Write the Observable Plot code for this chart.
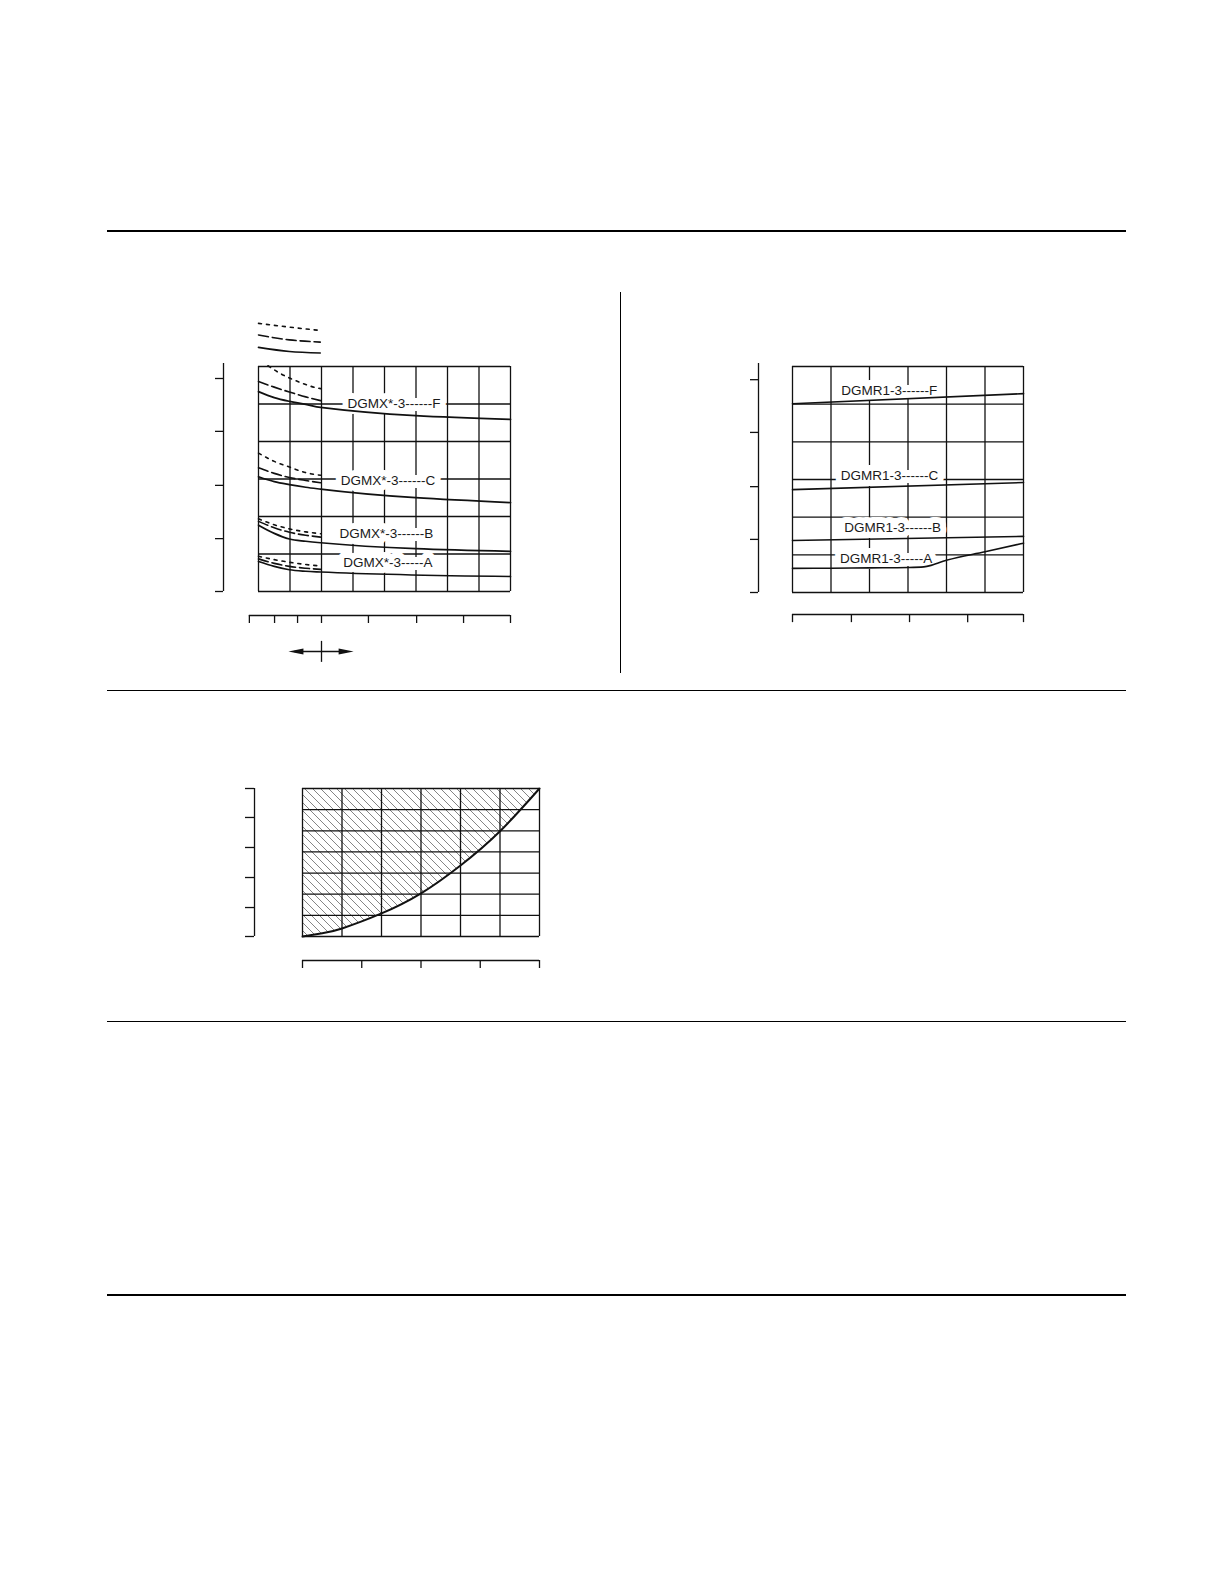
<!DOCTYPE html>
<html>
<head>
<meta charset="utf-8">
<script src="https://cdn.jsdelivr.net/npm/d3@7"></script>
<script src="https://cdn.jsdelivr.net/npm/@observablehq/plot@0.6"></script>
<style>
  html, body { margin: 0; padding: 0; background: #fff; }
  #page { position: relative; width: 1224px; height: 1584px; background: #fff; overflow: hidden;
          font-family: "Liberation Sans", Arial, Helvetica, sans-serif; }
  .rule { position: absolute; background: #000; }
  .chart { position: absolute; }
  .chart svg { overflow: visible; background: transparent; }
</style>
</head>
<body>
<div id="page">
  <div class="rule" style="left:107px;top:229.5px;width:1019px;height:2px"></div>
  <div class="rule" style="left:620px;top:292px;width:1.3px;height:381px"></div>
  <div class="rule" style="left:107px;top:689.5px;width:1019px;height:1.2px"></div>
  <div class="rule" style="left:107px;top:1020.5px;width:1019px;height:1.2px"></div>
  <div class="rule" style="left:107px;top:1294px;width:1019px;height:2px"></div>
  <div class="chart" id="c1" style="left:200px;top:300px"></div>
  <div class="chart" id="c2" style="left:730px;top:340px"></div>
  <div class="chart" id="c3" style="left:230px;top:770px"></div>
</div>
<script>
// ---------------- DATA ----------------
// Chart 1: DGMX*-3 curves (x in grid columns 0..8, y in grid rows 0..6)
const dgmxGridU = [0, 1, 2, 3, 4, 5, 6, 7, 8];
const dgmxGridV = [0, 1, 2, 3, 4, 5, 6];
const dgmxYTicks = [0, 1.41, 2.83, 4.27, 5.68];
const dgmxXTicks = [-0.29, 0.51, 1.24, 2.0, 3.49, 5.02, 6.51, 8.0];

const dgmxF_solid  = [[0,5.33],[0.5,5.17],[0.98,5.07],[1.5,4.99],[1.97,4.91],[8,4.59]];
const dgmxF_dashed = [[0,5.60],[0.5,5.45],[0.98,5.32],[1.5,5.19],[1.97,5.09]];
const dgmxF_dotted = [[0.3,6.02],[0.7,5.81],[1.02,5.68],[1.4,5.55],[1.8,5.44],[1.97,5.41]];
const dgmxC_solid  = [[0,3.06],[0.5,2.93],[0.98,2.85],[1.5,2.78],[1.97,2.73],[8,2.37]];
const dgmxC_dashed = [[0,3.30],[0.5,3.15],[0.98,3.04],[1.5,2.96],[1.97,2.90]];
const dgmxC_dotted = [[0,3.69],[0.5,3.47],[0.98,3.32],[1.5,3.17],[1.97,3.10]];
const dgmxB_solid  = [[0,1.77],[0.5,1.55],[0.98,1.40],[1.5,1.34],[1.97,1.30],[8,1.07]];
const dgmxB_dashed = [[0,1.87],[0.5,1.70],[0.98,1.58],[1.5,1.50],[1.97,1.45]];
const dgmxB_dotted = [[0,1.94],[0.5,1.78],[0.98,1.67],[1.5,1.59],[1.97,1.54]];
const dgmxA_solid  = [[0,0.80],[0.5,0.67],[0.98,0.58],[1.5,0.54],[1.97,0.52],[8,0.40]];
const dgmxA_dashed = [[0,0.87],[0.5,0.75],[0.98,0.67],[1.5,0.62],[1.97,0.59]];
const dgmxA_dotted = [[0,0.94],[0.5,0.85],[0.98,0.78],[1.5,0.72],[1.97,0.68]];

const legendDotted = [[0,7.15],[0.98,7.05],[1.96,6.96]];
const legendDashed = [[0,6.84],[0.98,6.71],[1.96,6.65]];
const legendSolid  = [[0,6.51],[0.98,6.40],[1.96,6.36]];

const dgmxLabelText = ["DGMX*-3------F", "DGMX*-3------C", "DGMX*-3------B", "DGMX*-3-----A"];
const dgmxLabelU = [4.30, 4.11, 4.06, 4.11];
const dgmxLabelV = [5.01, 2.96, 1.55, 0.77];

const dgmxArrow = {from: 0.95, center: 2.0, to: 3.02, v: -1.6, top: -1.33, bottom: -1.89};

// Chart 2: DGMR1-3 curves (x in grid columns 0..6, y in grid rows 0..6)
const dgmrGridU = [0, 1, 2, 3, 4, 5, 6];
const dgmrGridV = [0, 1, 2, 3, 4, 5, 6];
const dgmrYTicks = [0, 1.41, 2.81, 4.25, 5.65];
const dgmrXTicks = [0, 1.53, 3.04, 4.55, 6.0];
const dgmrF = [[0,5.01],[6,5.28]];
const dgmrC = [[0,2.73],[6,2.92]];
const dgmrB = [[0,1.38],[6,1.49]];
const dgmrA = [[0,0.64],[1,0.645],[2,0.655],[3,0.665],[3.41,0.68],[3.6,0.72],[3.8,0.79],[4.02,0.86],[5,1.08],[6,1.31]];
const dgmrLabelText = ["DGMR1-3------F", "DGMR1-3------C", "DGMR1-3------B", "DGMR1-3-----A"];
const dgmrLabelU = [2.51, 2.52, 2.60, 2.43];
const dgmrLabelV = [5.36, 3.11, 1.73, 0.90];

// Chart 3: limit curve with hatched region (x 0..6, y 0..7)
const limGridU = [0, 1, 2, 3, 4, 5, 6];
const limGridV = [0, 1, 2, 3, 4, 5, 6, 7];
const limYTicks = [0, 1.37, 2.79, 4.21, 5.63, 7];
const limXTicks = [0, 1.5, 3, 4.5, 6];
const limCurveU = [0, 0.5, 1, 2, 3, 4, 5, 6];
const limCurveV = [0, 0.15, 0.38, 1.09, 2.04, 3.36, 4.98, 7];

// ---------------- STYLE / LAYOUT ----------------
const ink = "#111";
const font = "Liberation Sans, Arial, Helvetica, sans-serif";
const gridW = 1.3;

const toRows = (pts, key) => pts.map(([u, v]) => ({u, v, key}));

const headLeft = {draw(ctx) { ctx.moveTo(0, 0); ctx.lineTo(15, -3); ctx.lineTo(15, 3); ctx.closePath(); }};
const headRight = {draw(ctx) { ctx.moveTo(0, 0); ctx.lineTo(-15, -3); ctx.lineTo(-15, 3); ctx.closePath(); }};

function labelMarks(texts, us, vs) {
  const rows = texts.map((t, i) => ({text: t, u: us[i], v: vs[i]}));
  return {
    halo: Plot.text(rows, {x: "u", y: "v", text: "text", fill: "white", stroke: "white", strokeWidth: 12,
      strokeLinejoin: "round", fontSize: 13.5, fontFamily: font}),
    text: Plot.text(rows, {x: "u", y: "v", text: "text", fill: "#1a1a1a", fontSize: 13.5, fontFamily: font})
  };
}

function axisMarks({yAxisU, yTop, tickU, yTicks, xAxisV, tickV, xTicks}) {
  return [
    Plot.ruleX([yAxisU], {y1: 0, y2: yTop, stroke: ink, strokeWidth: gridW}),
    Plot.ruleY(yTicks, {x1: yAxisU, x2: yAxisU - tickU, stroke: ink, strokeWidth: gridW}),
    Plot.ruleY([xAxisV], {x1: xTicks[0], x2: xTicks[xTicks.length - 1], stroke: ink, strokeWidth: gridW}),
    Plot.ruleX(xTicks, {y1: xAxisV, y2: xAxisV - tickV, stroke: ink, strokeWidth: gridW})
  ];
}

// ---------------- CHART 1 ----------------
{
  const solid = [...toRows(dgmxF_solid, "F"), ...toRows(dgmxC_solid, "C"), ...toRows(dgmxB_solid, "B"), ...toRows(dgmxA_solid, "A"), ...toRows(legendSolid, "L")];
  const dashed = [...toRows(dgmxF_dashed, "F"), ...toRows(dgmxC_dashed, "C"), ...toRows(dgmxB_dashed, "B"), ...toRows(dgmxA_dashed, "A"), ...toRows(legendDashed, "L")];
  const dotted = [...toRows(dgmxF_dotted, "F"), ...toRows(dgmxC_dotted, "C"), ...toRows(dgmxB_dotted, "B"), ...toRows(dgmxA_dotted, "A"), ...toRows(legendDotted, "L")];
  const labels = labelMarks(dgmxLabelText, dgmxLabelU, dgmxLabelV);
  const a = dgmxArrow;
  const svg = Plot.plot({
    width: 330, height: 370, margin: 0,
    x: {domain: [0, 8], range: [58, 310], axis: null},
    y: {domain: [0, 6], range: [291, 66], axis: null},
    style: {background: "transparent", overflow: "visible"},
    marks: [
      Plot.ruleX(dgmxGridU, {y1: 0, y2: 6, stroke: ink, strokeWidth: gridW}),
      Plot.ruleY(dgmxGridV, {x1: 0, x2: 8, stroke: ink, strokeWidth: gridW}),
      ...axisMarks({yAxisU: -1.111, yTop: 6.08, tickU: 0.254, yTicks: dgmxYTicks, xAxisV: -0.64, tickV: 0.213, xTicks: dgmxXTicks}),
      labels.halo,
      Plot.line(dotted, {x: "u", y: "v", z: "key", stroke: ink, strokeWidth: 1.6, strokeDasharray: "3,5", curve: "monotone-x"}),
      Plot.line(dashed, {x: "u", y: "v", z: "key", stroke: ink, strokeWidth: 1.6, strokeDasharray: "10,4", curve: "monotone-x"}),
      Plot.line(solid, {x: "u", y: "v", z: "key", stroke: ink, strokeWidth: 1.7, curve: "monotone-x"}),
      labels.text,
      Plot.ruleY([a.v], {x1: a.from + 0.2, x2: a.to - 0.2, stroke: ink, strokeWidth: 1.3}),
      Plot.ruleX([a.center], {y1: a.top, y2: a.bottom, stroke: ink, strokeWidth: 1.3}),
      Plot.dot([a], {x: "from", y: "v", symbol: headLeft, fill: ink, r: 4}),
      Plot.dot([a], {x: "to", y: "v", symbol: headRight, fill: ink, r: 4})
    ]
  });
  document.getElementById("c1").append(svg);
}

// ---------------- CHART 2 ----------------
{
  const rows = [...toRows(dgmrF, "F"), ...toRows(dgmrC, "C"), ...toRows(dgmrB, "B"), ...toRows(dgmrA, "A")];
  const labels = labelMarks(dgmrLabelText, dgmrLabelU, dgmrLabelV);
  const svg = Plot.plot({
    width: 320, height: 300, margin: 0,
    x: {domain: [0, 6], range: [62, 293], axis: null},
    y: {domain: [0, 6], range: [252, 26], axis: null},
    style: {background: "transparent", overflow: "visible"},
    marks: [
      Plot.ruleX(dgmrGridU, {y1: 0, y2: 6, stroke: ink, strokeWidth: gridW}),
      Plot.ruleY(dgmrGridV, {x1: 0, x2: 6, stroke: ink, strokeWidth: gridW}),
      ...axisMarks({yAxisU: -0.883, yTop: 6.08, tickU: 0.208, yTicks: dgmrYTicks, xAxisV: -0.584, tickV: 0.216, xTicks: dgmrXTicks}),
      labels.halo,
      Plot.line(rows, {x: "u", y: "v", z: "key", stroke: ink, strokeWidth: 1.6, curve: "monotone-x"}),
      labels.text
    ]
  });
  document.getElementById("c2").append(svg);
}

// ---------------- CHART 3 ----------------
{
  const curve = limCurveU.map((u, i) => ({u, v: limCurveV[i]}));
  const svg = Plot.plot({
    width: 330, height: 210, margin: 0,
    x: {domain: [0, 6], range: [72, 309], axis: null},
    y: {domain: [0, 7], range: [166, 18], axis: null},
    style: {background: "transparent", overflow: "visible"},
    marks: [
      Plot.areaY(curve, {x: "u", y1: "v", y2: 7, curve: "natural", fill: "url(#hatch3)"}),
      Plot.ruleX(limGridU, {y1: 0, y2: 7, stroke: ink, strokeWidth: gridW}),
      Plot.ruleY(limGridV, {x1: 0, x2: 6, stroke: ink, strokeWidth: gridW}),
      ...axisMarks({yAxisU: -1.215, yTop: 7, tickU: 0.228, yTicks: limYTicks, xAxisV: -1.135, tickV: 0.378, xTicks: limXTicks}),
      Plot.line(curve, {x: "u", y: "v", curve: "natural", stroke: ink, strokeWidth: 2})
    ]
  });
  const defs = d3.select(svg).insert("defs", ":first-child");
  const p = defs.append("pattern").attr("id", "hatch3").attr("patternUnits", "userSpaceOnUse")
    .attr("width", 8).attr("height", 8);
  p.append("path").attr("d", "M0,0L8,8M-1,7L1,9M7,-1L9,1")
    .attr("stroke", "#666").attr("stroke-width", 0.8).attr("fill", "none");
  document.getElementById("c3").append(svg);
}
</script>
</body>
</html>
